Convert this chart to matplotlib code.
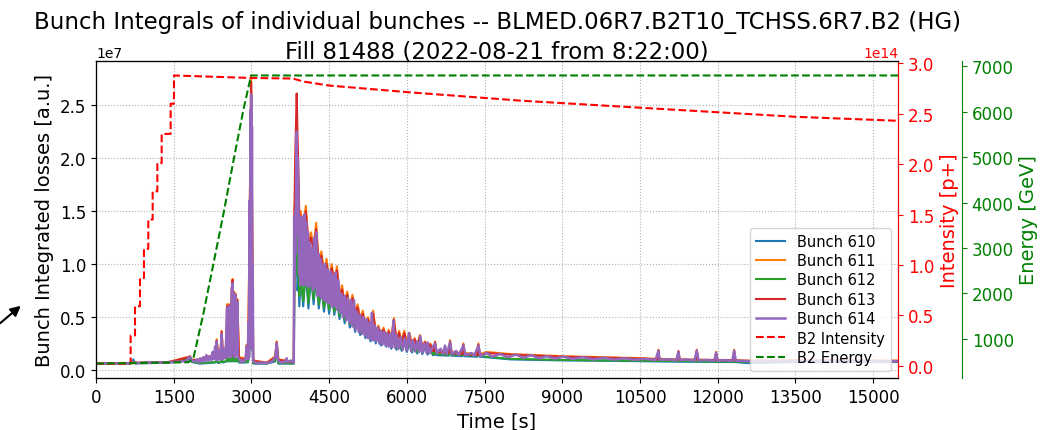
import numpy as np
import matplotlib.pyplot as plt

# bunch integrated losses, units of 1e7 a.u.
# bunch 614 is drawn last and covers most of the others, so it gets the dense trace
t_614 = [0, 300, 650, 700, 760, 1000, 1300, 1600, 1750, 1790, 1814, 1850, 1900,
         1950, 1980, 2010, 2040, 2070, 2100, 2130, 2160, 2190, 2220, 2250, 2270, 2300, 2315, 2330, 2350,
         2380, 2400, 2426, 2445, 2470, 2490, 2510,
         2530, 2545, 2560, 2575, 2590, 2605, 2620, 2638, 2650, 2665, 2680, 2695, 2710, 2728, 2740,
         2770, 2800, 2830, 2860, 2890, 2910, 2925, 2945, 2955, 2965, 2972, 2980, 2988, 2995, 3003, 3010,
         3018, 3025, 3035,
         3100, 3200, 3300, 3400, 3460, 3488, 3510, 3560, 3640, 3680, 3700, 3760, 3800, 3818,
         3825, 3835, 3845, 3855, 3865, 3874, 3885, 3895, 3906, 3920,
         3935, 3950, 3965, 3980, 3995, 4010, 4025, 4040, 4055, 4070,
         4090, 4110, 4130, 4150, 4170, 4190, 4210, 4230, 4250, 4270,
         4290, 4310, 4330, 4350, 4375, 4400, 4425, 4450, 4475, 4500,
         4525, 4550, 4575, 4600, 4625, 4650, 4680, 4710, 4740, 4770,
         4800, 4830, 4860, 4890, 4920, 4950, 4980, 5010, 5040, 5070,
         5100, 5130, 5160, 5190, 5220, 5250, 5280, 5310, 5325, 5350,
         5380, 5410, 5440, 5470, 5500, 5530, 5560, 5590, 5620, 5650,
         5680, 5710, 5740, 5770, 5800, 5840, 5880, 5920, 5960, 6000,
         6040, 6080, 6120, 6160, 6200, 6240, 6260, 6300, 6340, 6380,
         6400, 6440, 6500,
         6544, 6580, 6650, 6700, 6737, 6770, 6834, 6870, 6950, 7000,
         7091, 7130, 7250, 7300, 7381, 7420, 7543, 7650, 7800, 7950,
         8100, 8250, 8400, 8550, 8700, 8850, 9022, 9200, 9400, 9600,
         9800, 10000, 10200, 10400, 10600, 10800, 10855, 10880, 11050, 11200,
         11241, 11270, 11400, 11550, 11596, 11630, 11800, 11930, 11969, 12000,
         12150, 12280, 12317, 12350, 12600, 13000, 13500, 14000, 14500, 15000,
         15480]
bunch_614 = [0.062, 0.063, 0.064, 0.068, 0.066, 0.07, 0.072, 0.078, 0.085, 0.12, 0.125, 0.09, 0.08,
             0.1, 0.07, 0.11, 0.075, 0.12, 0.08, 0.14, 0.085, 0.13, 0.09, 0.17, 0.1, 0.22, 0.1, 0.27, 0.09,
             0.18, 0.1, 0.34, 0.1, 0.2, 0.11, 0.25,
             0.58, 0.12, 0.6, 0.15, 0.6, 0.12, 0.75, 0.82, 0.15, 0.72, 0.12, 0.7, 0.15, 0.64, 0.12,
             0.1, 0.07, 0.09, 0.08, 0.12, 0.22, 0.1, 0.45, 0.12, 1.6, 0.2, 2.45, 0.3, 2.6, 0.5, 2.3,
             0.2, 1.0, 0.08,
             0.065, 0.07, 0.065, 0.08, 0.12, 0.25, 0.1, 0.07, 0.075, 0.11, 0.07, 0.09, 0.07, 0.07,
             1.45, 0.9, 1.5, 1.1, 2.0, 2.25, 1.3, 2.0, 1.7, 0.9,
             1.4, 0.8, 1.45, 0.85, 1.4, 0.8, 1.47, 0.85, 1.4, 0.8,
             1.3, 0.78, 1.2, 0.8, 1.15, 0.75, 1.25, 0.78, 1.3, 0.7,
             1.1, 0.7, 1.05, 0.68, 1.0, 0.66, 1.0, 0.64, 0.95, 0.63,
             0.93, 0.6, 0.9, 0.6, 0.92, 0.57, 0.85, 0.54, 0.72, 0.5,
             0.7, 0.47, 0.68, 0.44, 0.66, 0.41, 0.66, 0.38, 0.55, 0.36,
             0.52, 0.34, 0.5, 0.32, 0.48, 0.3, 0.45, 0.29, 0.54, 0.28,
             0.42, 0.27, 0.4, 0.25, 0.37, 0.24, 0.36, 0.23, 0.35, 0.22,
             0.34, 0.215, 0.47, 0.21, 0.33, 0.2, 0.31, 0.19, 0.3, 0.185,
             0.35, 0.18, 0.28, 0.175, 0.27, 0.17, 0.32, 0.165, 0.25, 0.16,
             0.26, 0.16, 0.22,
             0.25, 0.16, 0.2, 0.155, 0.23, 0.15, 0.26, 0.145, 0.18, 0.14,
             0.23, 0.14, 0.16, 0.135, 0.23, 0.13, 0.16, 0.125, 0.15, 0.12,
             0.145, 0.115, 0.14, 0.11, 0.13, 0.108, 0.125, 0.105, 0.12, 0.1,
             0.115, 0.098, 0.11, 0.096, 0.105, 0.094, 0.18, 0.095, 0.1, 0.09,
             0.17, 0.092, 0.098, 0.088, 0.18, 0.09, 0.095, 0.086, 0.16, 0.088,
             0.093, 0.085, 0.18, 0.087, 0.083, 0.085, 0.082, 0.084, 0.08, 0.082,
             0.082]

# bunches 610-613 only show at the edges of the band
t_env = [0, 650, 700, 720, 760, 1400, 1790, 1814, 1850, 2000,
         2150, 2300, 2330, 2360, 2400, 2426, 2450, 2515, 2530, 2545,
         2560, 2575, 2590, 2605, 2620, 2638, 2650, 2665, 2680, 2695,
         2710, 2728, 2760, 2890, 2910, 2930, 2945, 2995, 3035, 3300,
         3460, 3488, 3520, 3818, 3822, 3830, 3845, 3860, 3874, 3890,
         3906, 3925, 3950, 4000, 4050, 4100, 4150, 4200, 4250, 4300,
         4350, 4400, 4450, 4500, 4550, 4600, 4650, 4700, 4750, 4800,
         4850, 4900, 4950, 5000, 5050, 5100, 5150, 5200, 5250, 5300,
         5350, 5400, 5450, 5500, 5550, 5600, 5650, 5700, 5750, 5800,
         5850, 5900, 5950, 6000, 6050, 6100, 6150, 6200, 6250, 6300,
         6350, 6400, 6450, 6500, 6525, 6544, 6570, 6810, 6834, 6860,
         7070, 7091, 7115, 7360, 7381, 7405, 7543, 8000, 9022, 10500,
         10835, 10855, 10875, 11220, 11241, 11262, 11575, 11596, 11617, 11948,
         11969, 11990, 12296, 12317, 12338, 12562, 13500, 15480]
bunch_610 = [0.06, 0.06, 0.075, 0.1, 0.062, 0.068, 0.1, 0.11, 0.075, 0.06,
             0.065, 0.07, 0.08, 0.065, 0.07, 0.09, 0.07, 0.08, 0.1, 0.08,
             0.1, 0.08, 0.1, 0.08, 0.1, 0.12, 0.08, 0.1, 0.08, 0.1,
             0.08, 0.1, 0.07, 0.07, 0.08, 0.07, 0.1, 0.5, 0.06, 0.06,
             0.08, 0.2, 0.06, 0.06, 0.3, 0.8, 1.0, 0.9, 1.2, 0.75,
             0.9, 0.6, 0.9, 0.6, 0.95, 0.58, 0.9, 0.62, 0.9, 0.58,
             0.8, 0.55, 0.75, 0.53, 0.72, 0.52, 0.7, 0.48, 0.6, 0.44,
             0.55, 0.4, 0.52, 0.36, 0.47, 0.33, 0.43, 0.3, 0.4, 0.27,
             0.38, 0.25, 0.35, 0.23, 0.33, 0.22, 0.31, 0.2, 0.3, 0.19,
             0.28, 0.18, 0.27, 0.17, 0.26, 0.165, 0.24, 0.155, 0.24, 0.15,
             0.22, 0.145, 0.21, 0.14, 0.14, 0.2, 0.14, 0.135, 0.19, 0.135,
             0.13, 0.18, 0.13, 0.125, 0.17, 0.125, 0.12, 0.1, 0.09, 0.083,
             0.08, 0.08, 0.08, 0.078, 0.078, 0.078, 0.077, 0.077, 0.077, 0.076,
             0.076, 0.076, 0.075, 0.075, 0.075, 0.065, 0.075, 0.075]
bunch_611 = [0.065, 0.066, 0.07, 0.075, 0.068, 0.075, 0.125, 0.13, 0.095, 0.1,
             0.13, 0.13, 0.29, 0.11, 0.13, 0.37, 0.13, 0.15, 0.62, 0.12,
             0.62, 0.15, 0.62, 0.12, 0.77, 0.86, 0.15, 0.74, 0.12, 0.72,
             0.15, 0.67, 0.12, 0.11, 0.24, 0.12, 0.5, 2.78, 0.09, 0.07,
             0.13, 0.27, 0.1, 0.075, 0.5, 1.5, 1.6, 1.9, 2.3, 1.9,
             1.8, 1.45, 1.5, 1.35, 1.55, 1.2, 1.3, 1.15, 1.39, 1.0,
             1.12, 0.92, 1.05, 0.85, 1.0, 0.82, 0.98, 0.7, 0.8, 0.62,
             0.74, 0.58, 0.71, 0.55, 0.62, 0.48, 0.56, 0.43, 0.5, 0.4,
             0.56, 0.36, 0.42, 0.33, 0.4, 0.31, 0.38, 0.3, 0.49, 0.28,
             0.37, 0.27, 0.37, 0.26, 0.35, 0.24, 0.3, 0.23, 0.33, 0.22,
             0.27, 0.21, 0.25, 0.2, 0.19, 0.27, 0.18, 0.17, 0.28, 0.17,
             0.16, 0.25, 0.16, 0.15, 0.25, 0.15, 0.17, 0.15, 0.13, 0.112,
             0.105, 0.19, 0.105, 0.1, 0.18, 0.1, 0.098, 0.19, 0.097, 0.095,
             0.17, 0.095, 0.093, 0.19, 0.092, 0.088, 0.09, 0.088]
bunch_612 = [0.06, 0.061, 0.066, 0.068, 0.064, 0.07, 0.11, 0.12, 0.08, 0.065,
             0.07, 0.075, 0.09, 0.07, 0.075, 0.1, 0.075, 0.085, 0.11, 0.085,
             0.11, 0.085, 0.11, 0.085, 0.11, 0.13, 0.085, 0.11, 0.085, 0.11,
             0.085, 0.11, 0.075, 0.075, 0.09, 0.075, 0.12, 0.6, 0.065, 0.062,
             0.09, 0.22, 0.065, 0.062, 0.3, 1.0, 1.15, 1.1, 1.3, 0.9,
             1.0, 0.7, 0.9, 0.65, 0.95, 0.63, 0.9, 0.67, 0.9, 0.62,
             0.8, 0.59, 0.75, 0.57, 0.72, 0.55, 0.7, 0.51, 0.6, 0.47,
             0.55, 0.43, 0.52, 0.39, 0.47, 0.36, 0.43, 0.33, 0.4, 0.3,
             0.38, 0.28, 0.35, 0.26, 0.33, 0.24, 0.31, 0.22, 0.3, 0.21,
             0.28, 0.2, 0.27, 0.19, 0.26, 0.18, 0.24, 0.17, 0.24, 0.165,
             0.22, 0.16, 0.21, 0.15, 0.15, 0.2, 0.15, 0.145, 0.19, 0.145,
             0.14, 0.18, 0.14, 0.135, 0.17, 0.135, 0.125, 0.105, 0.095, 0.087,
             0.085, 0.085, 0.085, 0.083, 0.083, 0.083, 0.082, 0.082, 0.082, 0.08,
             0.08, 0.08, 0.079, 0.079, 0.079, 0.075, 0.078, 0.078]
bunch_613 = [0.064, 0.065, 0.068, 0.07, 0.067, 0.074, 0.12, 0.128, 0.093, 0.095,
             0.125, 0.125, 0.28, 0.105, 0.125, 0.36, 0.12, 0.14, 0.6, 0.12,
             0.61, 0.14, 0.61, 0.12, 0.76, 0.85, 0.14, 0.73, 0.12, 0.71,
             0.14, 0.66, 0.11, 0.1, 0.23, 0.11, 0.48, 2.72, 0.085, 0.068,
             0.12, 0.26, 0.095, 0.072, 0.5, 1.5, 2.0, 2.3, 2.61, 2.2,
             1.9, 1.4, 1.45, 1.33, 1.5, 1.18, 1.25, 1.13, 1.33, 0.98,
             1.08, 0.9, 1.0, 0.83, 0.96, 0.8, 0.94, 0.68, 0.76, 0.6,
             0.71, 0.56, 0.68, 0.53, 0.59, 0.46, 0.53, 0.41, 0.48, 0.38,
             0.53, 0.34, 0.4, 0.31, 0.38, 0.29, 0.36, 0.28, 0.47, 0.26,
             0.35, 0.25, 0.35, 0.24, 0.33, 0.22, 0.29, 0.21, 0.31, 0.2,
             0.26, 0.19, 0.24, 0.18, 0.18, 0.26, 0.17, 0.16, 0.27, 0.16,
             0.15, 0.24, 0.15, 0.14, 0.24, 0.14, 0.16, 0.145, 0.125, 0.108,
             0.1, 0.185, 0.1, 0.097, 0.175, 0.097, 0.095, 0.185, 0.095, 0.093,
             0.165, 0.092, 0.09, 0.185, 0.09, 0.086, 0.088, 0.086]

# beam 2 intensity, units of 1e14 p+
t_int = [0, 669, 669, 753, 753, 849, 849, 926, 926, 1010,
         1010, 1094, 1094, 1184, 1184, 1268, 1268, 1441, 1441, 1505,
         1505, 3000, 3800, 4000, 4500, 6000, 8200, 10500, 13500, 15480]
b2_intensity = [0.02, 0.02, 0.30, 0.30, 0.59, 0.59, 0.87, 0.87, 1.16, 1.16,
                1.45, 1.45, 1.73, 1.73, 2.01, 2.01, 2.30, 2.30, 2.60, 2.60,
                2.88, 2.855, 2.85, 2.82, 2.78, 2.715, 2.63, 2.56, 2.47, 2.43]

# beam 2 energy [GeV]
t_energy = [0, 1782, 1879, 2072, 2265, 2458, 2651, 2844, 2993, 15480]
b2_energy = [450, 480, 563, 1548, 2643, 3737, 4907, 6037, 6800, 6800]

title_1 = 'Bunch Integrals of individual bunches -- BLMED.06R7.B2T10_TCHSS.6R7.B2 (HG)'
title_2 = 'Fill 81488 (2022-08-21 from 8:22:00)'

bunches = [('Bunch 610', t_env, bunch_610), ('Bunch 611', t_env, bunch_611),
           ('Bunch 612', t_env, bunch_612), ('Bunch 613', t_env, bunch_613),
           ('Bunch 614', t_614, bunch_614)]

fig, ax = plt.subplots(figsize=(10.56, 4.31), dpi=100)
fig.subplots_adjust(left=0.0909, right=0.8504, top=0.856, bottom=0.1206)

for i, (name, t, v) in enumerate(bunches):
    lw = 1.8 if i == 4 else 1.5
    ax.plot(t, np.array(v)*1e7, color='C%d' % i, lw=lw, label=name)

ax2 = ax.twinx()
ax2.plot(t_int, np.array(b2_intensity)*1e14, 'r--', lw=1.5, label='B2 Intensity')
ax3 = ax.twinx()
ax3.spines['right'].set_position(('outward', 46))
ax3.plot(t_energy, b2_energy, 'g--', lw=1.5, label='B2 Energy')

ax.set_xlim(0, 15480)
ax.set_xticks(np.arange(0, 15001, 1500))
ax.grid(True, ls=':', color='#b0b0b0')
ax.tick_params(labelsize=12)
ax.set_xlabel('Time [s]', fontsize=14)
ax.set_ylabel('Bunch Integrated losses [a.u.]', fontsize=14)

# two title lines, centred over the axes
xc = 497/1056
fig.text(xc, 1-28.5/431, title_1, ha='center', va='baseline', fontsize=16.5)
fig.text(xc, 1-58.5/431, title_2, ha='center', va='baseline', fontsize=16.5)

ax2.set_ylabel('Intensity [p+]', color='r', fontsize=14)
ax2.tick_params(axis='y', colors='r', labelsize=12)
ax2.spines['right'].set_color('r')
ax2.yaxis.get_offset_text().set_color('r')

ax3.set_ylabel('Energy [GeV]', color='g', fontsize=14)
ax3.tick_params(axis='y', colors='g', labelsize=12)
ax3.spines['right'].set_color('g')

h1, l1 = ax.get_legend_handles_labels()
h2, l2 = ax2.get_legend_handles_labels()
h3, l3 = ax3.get_legend_handles_labels()
ax.legend(h1+h2+h3, l1+l2+l3, loc='lower right', fontsize=10.5, labelspacing=0.3, framealpha=0.8)

# arrow on the left margin
ax.annotate('', xy=(23/1056, 1-305/431), xycoords='figure fraction',
            xytext=(-2/1056, 1-326/431), textcoords='figure fraction',
            arrowprops=dict(arrowstyle='-|>', color='k', lw=1.5, mutation_scale=15),
            annotation_clip=False)

plt.savefig('out.png')
